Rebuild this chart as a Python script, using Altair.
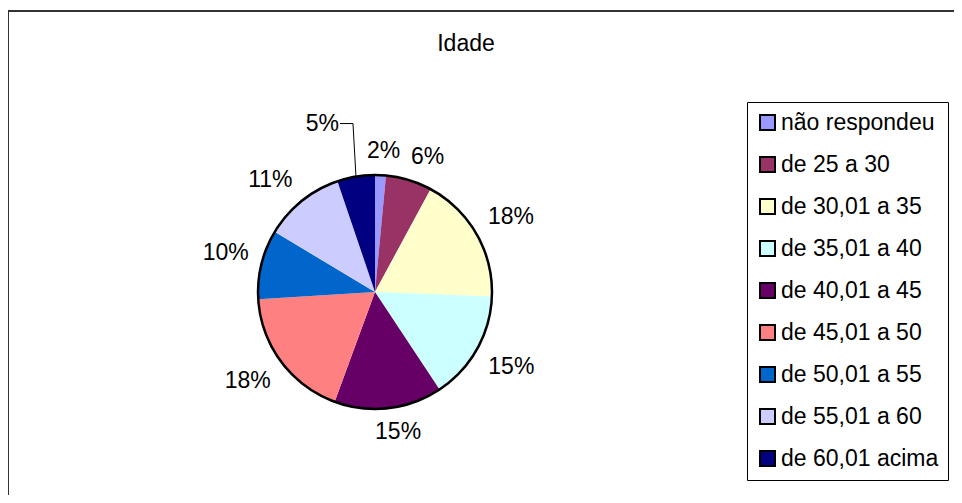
import altair as alt
import pandas as pd

# ---- data ----
categories = ["não respondeu", "de 25 a 30", "de 30,01 a 35", "de 35,01 a 40",
              "de 40,01 a 45", "de 45,01 a 50", "de 50,01 a 55", "de 55,01 a 60",
              "de 60,01 acima"]
values = [1.5, 6.4, 17.7, 15.1, 14.9, 18.4, 9.6, 11.2, 5.2]
colors = ["#9999FF", "#993366", "#FFFFCC", "#CCFFFF", "#660066",
          "#FF8080", "#0066CC", "#CCCCFF", "#000080"]
title_text = "Idade"
leader_cat = "de 60,01 acima"   # slice whose label sits on a leader line

FONT = "Liberation Sans, Arial, sans-serif"
W, H = 946, 484
CX, CY, R = 367, 281, 117       # pie centre (view px) and radius

df = pd.DataFrame({"cat": categories, "value": values,
                   "idx": list(range(len(categories)))})

pie = alt.Chart(df).mark_arc(outerRadius=R, strokeWidth=0).encode(
    theta=alt.Theta("value:Q", stack=True),
    order=alt.Order("idx:Q"),
    color=alt.Color(
        "cat:N",
        sort=categories,
        scale=alt.Scale(domain=categories, range=colors),
        legend=alt.Legend(
            title=None, orient="none", legendX=739, legendY=91,
            symbolType="square", symbolSize=225, symbolStrokeColor="black",
            symbolStrokeWidth=2, symbolOpacity=1,
            labelFont=FONT, labelFontSize=23, labelColor="black",
            labelOffset=2, labelLimit=500, rowPadding=18, padding=9,
            strokeColor="black", fillColor="white",
            labelExpr="datum.label + '\u00a0\u00a0'",
        ),
    ),
    x=alt.value(CX), y=alt.value(CY),
)

outline = alt.Chart(df).mark_arc(
    outerRadius=R, filled=False, stroke="black", strokeWidth=2.5
).encode(
    theta=alt.Theta("sum(value):Q"),
    x=alt.value(CX), y=alt.value(CY),
)

base = alt.Chart(df).transform_window(
    cum="sum(value)", sort=[alt.SortField("idx")], frame=[None, 0]
).transform_joinaggregate(total="sum(value)").transform_calculate(
    mid="(datum.cum - datum.value / 2) / datum.total * 2 * PI",
    pct="round(datum.value / datum.total * 100) + '%'",
)

# Excel-like label placement: anchor just outside the rim, then push the
# text box outward by (up to) half its width / height
labels = base.transform_filter(alt.datum.cat != leader_cat).transform_calculate(
    hw="6 * length(datum.pct) + 5",
).transform_calculate(
    lx=f"{CX} + {R + 13} * sin(datum.mid) + datum.hw * clamp(3 * sin(datum.mid), -1, 1)",
    ly=f"{CY} - {R + 13} * cos(datum.mid) - 11 * clamp(3 * cos(datum.mid), -1, 1)",
).mark_text(font=FONT, fontSize=23, color="black", align="center",
            baseline="middle").encode(
    x=alt.X("lx:Q", scale=None),
    y=alt.Y("ly:Q", scale=None),
    text="pct:N",
)

lead = base.transform_filter(alt.datum.cat == leader_cat).transform_calculate(
    x1=f"{CX} + {R} * sin(datum.mid)",
    y1=f"{CY} - {R} * cos(datum.mid)",
).transform_calculate(
    x2="datum.x1 - 3",
    y2="datum.y1 - 53",
).transform_calculate(
    x3="datum.x2 - 13",
)

seg1 = lead.mark_rule(color="black", strokeWidth=1).encode(
    x=alt.X("x1:Q", scale=None), y=alt.Y("y1:Q", scale=None),
    x2="x2:Q", y2="y2:Q",
)
seg2 = lead.mark_rule(color="black", strokeWidth=1).encode(
    x=alt.X("x2:Q", scale=None), y=alt.Y("y2:Q", scale=None),
    x2="x3:Q", y2="y2:Q",
)
lead_label = lead.mark_text(font=FONT, fontSize=23, color="black",
                            align="right", baseline="middle", dx=-1).encode(
    x=alt.X("x3:Q", scale=None), y=alt.Y("y2:Q", scale=None), text="pct:N",
)

# chart-area frame: only its top and left edges fall inside the picture
frame_df = pd.DataFrame({"k": [0]})
frame_top = alt.Chart(frame_df).mark_rule(color="#333333", strokeWidth=2).encode(
    x=alt.value(0), x2=alt.value(W), y=alt.value(0)
)
frame_left = alt.Chart(frame_df).mark_rule(color="#333333", strokeWidth=2).encode(
    x=alt.value(0), y=alt.value(0), y2=alt.value(H)
)

chart = alt.layer(pie, outline, labels, seg1, seg2, lead_label,
                  frame_top, frame_left).resolve_scale(
    theta="independent"
).properties(
    width=W, height=H,
    autosize="none",
    padding={"left": 0, "top": 3, "right": 0, "bottom": 0},
    title=alt.TitleParams(
        title_text, font=FONT, fontSize=23, fontWeight="normal", color="black",
        anchor="middle", frame="group", offset=0, dy=64, dx=-15,
        baseline="alphabetic",
    ),
).configure_view(stroke=None).configure(background="white")

chart.save("out.html", embed_options={"renderer": "svg", "actions": False})
